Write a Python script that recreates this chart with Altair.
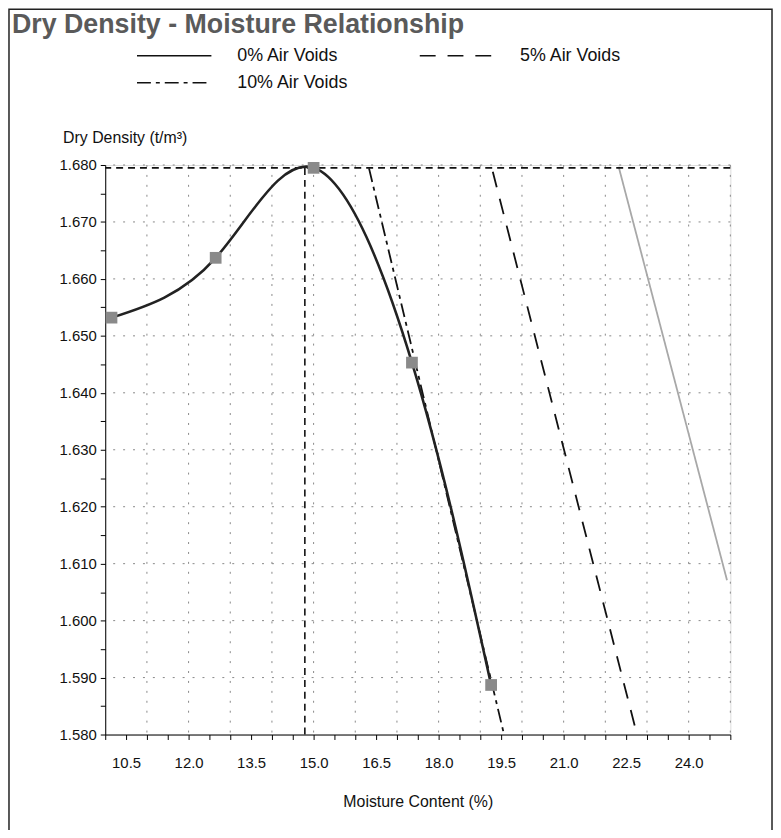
import altair as alt
import pandas as pd

# ---- data ----
moisture = [10.15, 12.65, 15.0, 17.36, 19.26]
dry_density = [1.6532, 1.6637, 1.6795, 1.6453, 1.5887]

series_names = ["0% Air Voids", "5% Air Voids", "10% Air Voids"]
av_moisture = [[22.32, 24.92], [19.30, 22.76], [16.33, 19.57]]
av_density = [[1.6797, 1.6071], [1.6788, 1.5800], [1.6794, 1.5800]]
series_dash = [[1, 0], [16, 12], [14, 5, 4, 5]]
# legend fills column by column: this order gives row 1 = 0%, 5% and row 2 = 10%
legend_order = ["0% Air Voids", "10% Air Voids", "5% Air Voids"]

mdd = 1.6795
omc = 14.79

x_domain = [10.0, 25.0]
y_domain = [1.580, 1.680]

x_tick_values = [10.0, 10.5, 11.0, 11.5, 12.0, 12.5, 13.0, 13.5, 14.0, 14.5, 15.0, 15.5,
                 16.0, 16.5, 17.0, 17.5, 18.0, 18.5, 19.0, 19.5, 20.0, 20.5, 21.0, 21.5,
                 22.0, 22.5, 23.0, 23.5, 24.0, 24.5, 25.0]
x_label_values = [10.5, 12.0, 13.5, 15.0, 16.5, 18.0, 19.5, 21.0, 22.5, 24.0]
y_tick_values = [1.580, 1.585, 1.590, 1.595, 1.600, 1.605, 1.610, 1.615, 1.620, 1.625,
                 1.630, 1.635, 1.640, 1.645, 1.650, 1.655, 1.660, 1.665, 1.670, 1.675, 1.680]
x_grid = [11.0, 12.0, 13.0, 14.0, 15.0, 16.0, 17.0, 18.0, 19.0, 20.0, 21.0, 22.0, 23.0, 24.0, 25.0]
y_grid = [1.590, 1.600, 1.610, 1.620, 1.630, 1.640, 1.650, 1.660, 1.670, 1.680]

FONT = "Liberation Sans"

# ---- tables ----
pts = pd.DataFrame({"x": moisture, "y": dry_density})
av_rows = []
for name, xs_, ys_ in zip(series_names, av_moisture, av_density):
    for xv, yv in zip(xs_, ys_):
        av_rows.append({"x": xv, "y": yv, "series": name})
av = pd.DataFrame(av_rows)
gx = pd.DataFrame({"x": x_grid})
gy = pd.DataFrame({"y": y_grid})
mdd_df = pd.DataFrame({"y": [mdd]})
omc_df = pd.DataFrame({"x": [omc], "y": [y_domain[0]], "y2": [mdd]})

xs = alt.Scale(domain=x_domain, nice=False, zero=False)
ys = alt.Scale(domain=y_domain, nice=False, zero=False)

label_list = ",".join(str(v) for v in x_label_values)
xaxis = alt.Axis(
    values=x_tick_values,
    labelExpr=f"indexof([{label_list}], datum.value) >= 0 ? format(datum.value, '.1f') : ''",
    grid=False, tickSize=5, tickColor="#000", domainColor="#000",
    labelFont=FONT, labelFontSize=15, labelColor="#111", labelPadding=16,
    title="Moisture Content (%)", titleFont=FONT, titleFontSize=16,
    titleFontWeight="normal", titleColor="#111", titlePadding=24,
    labelFlush=False, labelOverlap=False,
)
yaxis = alt.Axis(
    values=y_tick_values,
    labelExpr="round(datum.value * 1000) % 10 == 0 ? format(datum.value, '.3f') : ''",
    grid=False, tickSize=5, tickColor="#000", domainColor="#000",
    labelFont=FONT, labelFontSize=15, labelColor="#111", labelPadding=4,
    title="Dry Density (t/m³)", titleFont=FONT, titleFontSize=16,
    titleFontWeight="normal", titleColor="#111", titleAngle=0,
    titleAlign="left", titleBaseline="middle", titleX=-43, titleY=-28,
    labelFlush=False, labelOverlap=False,
)


def X(field="x"):
    return alt.X(f"{field}:Q", scale=xs, axis=xaxis)


def Y(field="y"):
    return alt.Y(f"{field}:Q", scale=ys, axis=yaxis)


grid_v = alt.Chart(gx).mark_rule(color="#888", strokeDash=[2, 8], strokeWidth=1).encode(x=X())
grid_h = alt.Chart(gy).mark_rule(color="#888", strokeDash=[2, 8], strokeWidth=1).encode(y=Y())

dash_by_name = dict(zip(series_names, series_dash))
air = alt.Chart(av).mark_line(strokeWidth=1.8).encode(
    x=X(), y=Y(),
    strokeDash=alt.StrokeDash(
        "series:N", sort=legend_order,
        scale=alt.Scale(domain=legend_order, range=[dash_by_name[n] for n in legend_order]),
        legend=alt.Legend(
            orient="none", legendX=31, legendY=-120, columns=2, title=None,
            symbolType="stroke", symbolSize=5625, symbolStrokeWidth=1.5,
            symbolStrokeColor="#111", labelFont=FONT, labelFontSize=18,
            labelColor="#111", labelOffset=25, columnPadding=70, rowPadding=7,
            clipHeight=20,
        ),
    ),
    color=alt.condition(alt.datum.series == "0% Air Voids", alt.value("#a8a8a8"), alt.value("#111")),
)

mdd_line = alt.Chart(mdd_df).mark_rule(color="#111", strokeDash=[7, 5], strokeWidth=1.6).encode(y=Y())
omc_line = alt.Chart(omc_df).mark_rule(color="#111", strokeDash=[7, 5], strokeWidth=1.6).encode(
    x=X(), y=Y(), y2="y2:Q")

curve = alt.Chart(pts).mark_line(interpolate="natural", color="#222", strokeWidth=2.6).encode(x=X(), y=Y())
points = alt.Chart(pts).mark_square(size=140, color="#8a8a8a", opacity=1).encode(x=X(), y=Y())

frame = alt.Chart(pd.DataFrame({"a": [0]})).mark_rect(filled=False, stroke="#222", strokeWidth=1.5).encode(
    x=alt.value(-97), x2=alt.value(672), y=alt.value(-157), y2=alt.value(700))

chart = alt.layer(
    frame, grid_v, grid_h, air, mdd_line, omc_line, curve, points
).properties(
    width=630, height=574,
    padding={"left": 98, "top": 155, "right": 43, "bottom": 93},
    autosize=alt.AutoSizeParams(type="none"),
    title=alt.TitleParams(
        "Dry Density - Moisture Relationship", anchor="start", frame="group",
        font=FONT, fontSize=27, fontWeight="bold", color="#5a5a5a",
        dx=-94, dy=31, offset=0,
    ),
).configure_view(stroke=None).configure(background="white")

chart.save("out.html", embed_options={"renderer": "svg", "actions": False})
